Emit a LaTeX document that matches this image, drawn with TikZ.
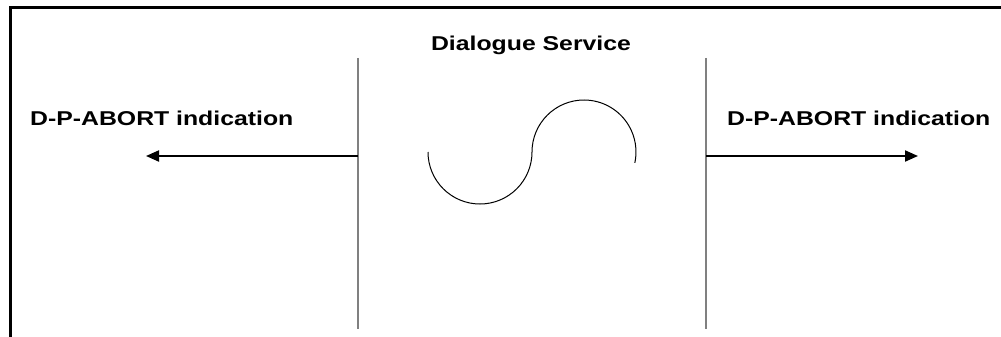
\documentclass[tikz,border=0pt]{standalone}
\usepackage{fontspec}
\setmainfont{Liberation Sans}
\newfontfamily\labelfont[FakeStretch=1.24]{Liberation Sans}
\usetikzlibrary{arrows.meta}
\begin{document}
\begin{tikzpicture}[
  x=1pt, y=1pt,
  etiqueta/.style={inner sep=0pt, font=\labelfont\bfseries\fontsize{20}{23}\selectfont},
  marco/.style={line width=3pt},
  vida/.style={draw=black!50, line width=1.3pt},
  flecha/.style={-{Triangle[length=13pt,width=11pt]}, line width=2pt},
  onda/.style={line width=1pt}
]
  \useasboundingbox (0,0) rectangle (1001,-337);
  \draw[marco] (10,-337) -- (10,-8) -- (1001,-8);
  \node[etiqueta, anchor=base] (servicio) at (531,-51) {Dialogue Service};
  \node[etiqueta, anchor=base west] (izq) at (30,-125) {D-P-ABORT indication};
  \node[etiqueta, anchor=base west] (der) at (727,-125) {D-P-ABORT indication};
  \coordinate (izqarriba) at (358,-58);
  \coordinate (izqabajo) at (358,-329);
  \coordinate (derarriba) at (706,-58);
  \coordinate (derabajo) at (706,-329);
  \coordinate (izqsalida) at (358,-156);
  \coordinate (izqpunta) at (146,-156);
  \coordinate (dersalida) at (706,-156);
  \coordinate (derpunta) at (918,-156);
  \draw[vida] (izqarriba) -- (izqabajo);
  \draw[vida] (derarriba) -- (derabajo);
  \draw[flecha] (izqsalida) -- (izqpunta);
  \draw[flecha] (dersalida) -- (derpunta);
  \draw[onda] (428,-152) arc[start angle=180, end angle=360, radius=52];
  \draw[onda] (532,-152) arc[start angle=180, end angle=-12, radius=52];
\end{tikzpicture}
\end{document}
